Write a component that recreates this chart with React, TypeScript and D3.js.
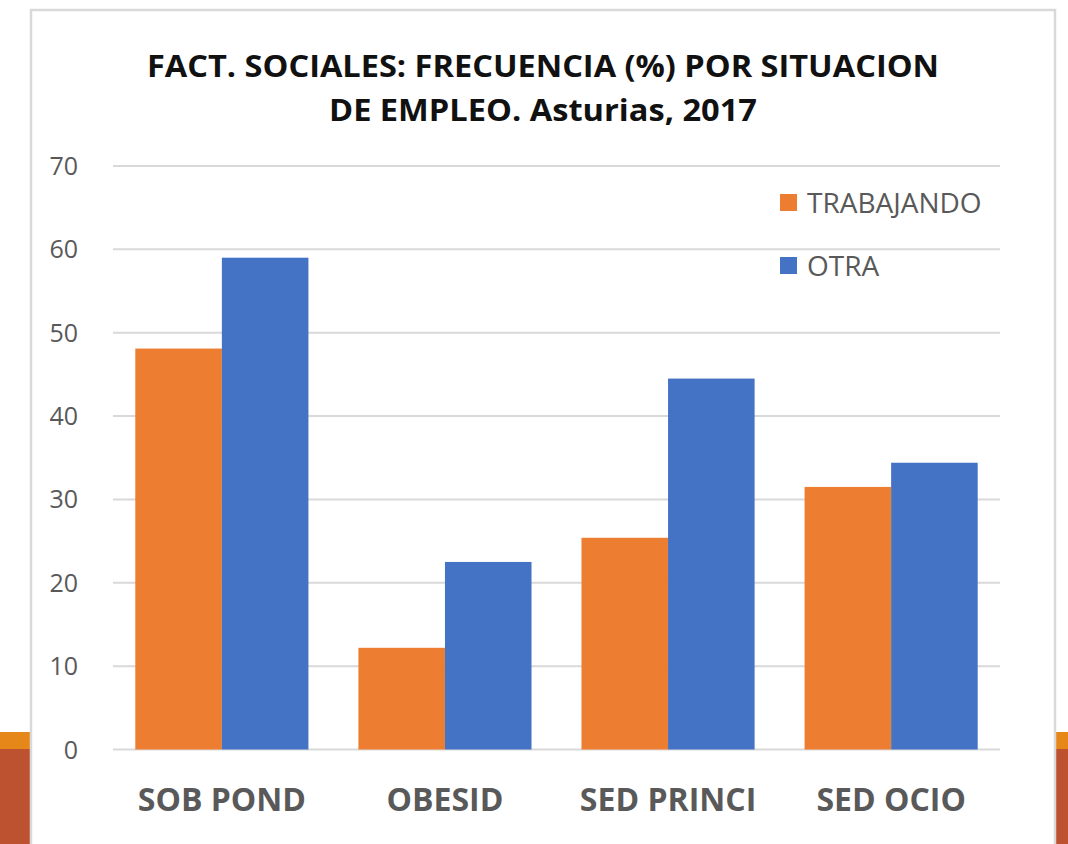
import React from "react";
import * as d3 from "d3";

const categories = ["SOB POND", "OBESID", "SED PRINCI", "SED OCIO"];
const seriesNames = ["TRABAJANDO", "OTRA"];
const trabajando = [48.1, 12.2, 25.4, 31.5];
const otra = [59.0, 22.5, 44.5, 34.4];
const yTicks = [0, 10, 20, 30, 40, 50, 60, 70];
const titleLines = ["FACT. SOCIALES: FRECUENCIA (%) POR SITUACION", "DE EMPLEO. Asturias, 2017"];

const colors: Record<string, string> = { TRABAJANDO: "#ED7D31", OTRA: "#4472C4" };

export default function App() {
  const W = 1068;
  const H = 844;
  const plot = { left: 113, right: 1000, top: 166, bottom: 749.5 };
  const y = d3.scaleLinear().domain([0, 70]).range([plot.bottom, plot.top]);
  const x0 = d3
    .scaleBand<string>()
    .domain(categories)
    .range([plot.left, plot.right])
    .paddingInner(0.224)
    .paddingOuter(0.1);
  const x1 = d3.scaleBand<string>().domain(seriesNames).range([0, x0.bandwidth()]);
  const values: Record<string, number[]> = { TRABAJANDO: trabajando, OTRA: otra };
  const font = "'Open Sans', 'Liberation Sans', sans-serif";

  return (
    <svg
      width={W}
      height={H}
      style={{ position: "fixed", left: 0, top: 0, display: "block" }}
      fontFamily={font}
    >
      <rect x={0} y={0} width={W} height={H} fill="#ffffff" />
      {/* slide decoration behind */}
      <rect x={0} y={732} width={W} height={17} fill="#E6871A" />
      <rect x={0} y={749} width={W} height={H - 749} fill="#BC5230" />
      {/* chart area */}
      <rect x={31} y={10} width={1024} height={H} fill="#ffffff" stroke="#d9d9d9" strokeWidth={2.5} />

      {/* title */}
      <text x={543} y={77} textAnchor="middle" fontSize={31} fontWeight={700} fill="#111" textLength={792} lengthAdjust="spacingAndGlyphs">
        {titleLines[0]}
      </text>
      <text x={543} y={121} textAnchor="middle" fontSize={31} fontWeight={700} fill="#111" textLength={428} lengthAdjust="spacingAndGlyphs">
        {titleLines[1]}
      </text>

      {/* gridlines */}
      {yTicks.map((t) => (
        <line key={t} x1={plot.left} x2={plot.right} y1={y(t)} y2={y(t)} stroke="#d9d9d9" strokeWidth={2} />
      ))}
      {/* y labels */}
      {yTicks.map((t) => (
        <text key={"l" + t} x={78} y={y(t) + 9} textAnchor="end" fontSize={25} fill="#595959">
          {t}
        </text>
      ))}

      {/* bars */}
      {categories.map((c, i) => (
        <g key={c} transform={`translate(${x0(c)},0)`}>
          {seriesNames.map((s) => (
            <rect
              key={s}
              x={x1(s)}
              y={y(values[s][i])}
              width={x1.bandwidth()}
              height={y(0) - y(values[s][i])}
              fill={colors[s]}
            />
          ))}
        </g>
      ))}

      {/* x labels */}
      {categories.map((c) => (
        <text key={"x" + c} x={(x0(c) as number) + x0.bandwidth() / 2} y={811} textAnchor="middle" fontSize={32} fontWeight={700} fill="#595959">
          {c}
        </text>
      ))}

      {/* legend */}
      {seriesNames.map((s, i) => (
        <g key={"lg" + s} transform={`translate(780, ${194 + i * 63})`}>
          <rect x={0} y={0} width={17} height={17} fill={colors[s]} />
          <text x={27} y={19} fontSize={28} fill="#595959">
            {s}
          </text>
        </g>
      ))}
    </svg>
  );
}
